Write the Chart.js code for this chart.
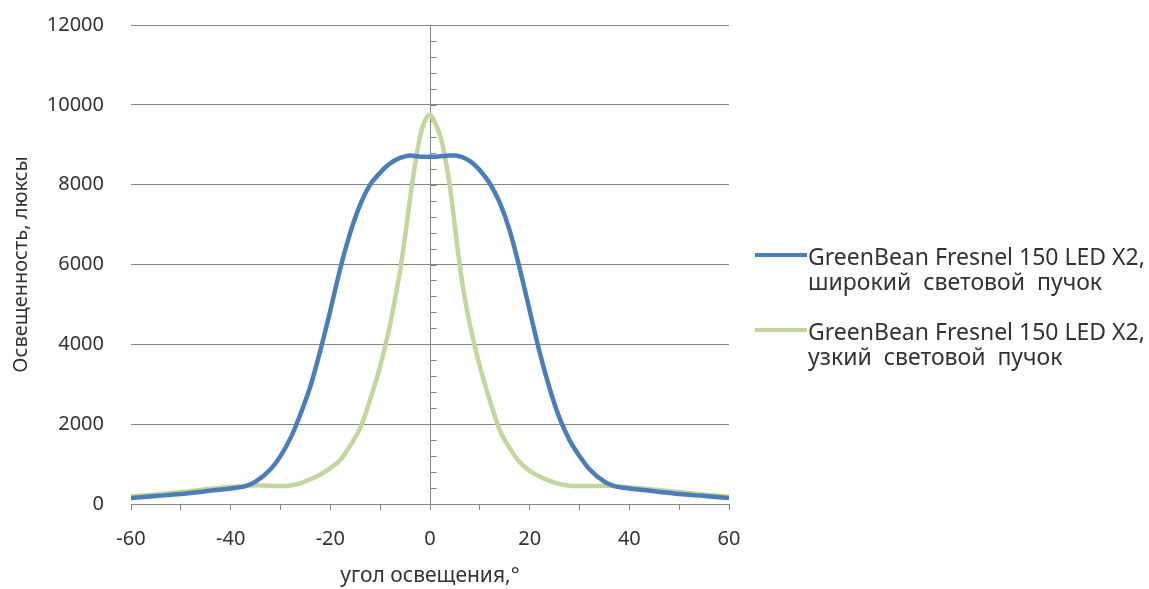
<!DOCTYPE html>
<html>
<head>
<meta charset="utf-8">
<script src="https://cdn.jsdelivr.net/npm/chart.js@4.4.1/dist/chart.umd.min.js"></script>
<style>
  body { margin: 0; background: #fff; }
  #wrap { position: relative; width: 1149px; height: 589px; font-family: "Noto Sans", sans-serif; color: #333; }
  .legend-item { position: absolute; left: 755px; display: flex; align-items: flex-start; }
  .legend-line { width: 52px; height: 4px; margin-top: 9.5px; margin-right: 1px; }
  .legend-text { font-size: 23px; line-height: 25px; white-space: nowrap; }
</style>
</head>
<body>
<div id="wrap">
  <canvas id="chart" width="1149" height="589"></canvas>
  <div class="legend-item" style="top:243.5px">
    <div class="legend-line" style="background:#4A7EBB"></div>
    <div class="legend-text">GreenBean Fresnel 150 LED X2,<br>широкий&nbsp; световой&nbsp; пучок</div>
  </div>
  <div class="legend-item" style="top:318.5px">
    <div class="legend-line" style="background:#C3D69B"></div>
    <div class="legend-text">GreenBean Fresnel 150 LED X2,<br>узкий&nbsp; световой&nbsp; пучок</div>
  </div>
</div>
<script>
// angle, degrees
const angles = [-60, -55, -50, -45, -40, -37, -35, -32,
  -30, -28, -26, -24, -22, -20, -18, -16, -14, -12,
  -10, -9, -8, -7, -6, -5, -4, -3, -2, -1, 0, 1, 2, 3, 4, 5, 6, 7, 8, 9, 10,
  12, 14, 16, 18, 20, 22, 24, 26, 28, 30,
  32, 35, 37, 40, 45, 50, 55, 60];

// illuminance, lux - wide beam
const wideBeam = [150, 200, 250, 320, 390, 450, 560, 870,
  1200, 1650, 2250, 2950, 3850, 4850, 5900, 6800, 7500, 8000,
  8300, 8430, 8530, 8610, 8670, 8710, 8730, 8720, 8700, 8700, 8700, 8700, 8710, 8720, 8730, 8730, 8710, 8660, 8590, 8490, 8360,
  8030, 7550, 6850, 5900, 4850, 3800, 2900, 2150, 1600, 1200,
  870, 560, 450, 390, 320, 250, 200, 150];

// illuminance, lux - narrow beam
const narrowBeam = [190, 240, 300, 370, 430, 460, 470, 455,
  450, 465, 520, 620, 740, 900, 1100, 1470, 1900, 2620,
  3450, 3950, 4500, 5150, 5850, 6700, 7650, 8500, 9200, 9600, 9750, 9550, 9250, 8700, 7950, 6950, 5950, 5150, 4500, 3950, 3450,
  2600, 1850, 1400, 1050, 830, 690, 580, 500, 460, 450,
  450, 455, 450, 420, 360, 300, 240, 180];

const seriesNames = ['GreenBean Fresnel 150 LED X2, широкий световой пучок', 'GreenBean Fresnel 150 LED X2, узкий световой пучок'];

const xTicks = [-60, -50, -40, -30, -20, -10, 0, 10, 20, 30, 40, 50, 60];
const xLabels = [-60, -40, -20, 0, 20, 40, 60];
const yTicks = [0, 2000, 4000, 6000, 8000, 10000, 12000];
const yMinorStep = 400;

const gridColor = '#868686';
const textColor = '#333333';

const toPoints = vals => vals.map((v, i) => ({ x: angles[i], y: v }));

// vertical axis crossing at 0 with minor ticks
const centerAxis = {
  id: 'centerAxis',
  beforeDatasetsDraw(chart) {
    const { ctx, scales: { x, y } } = chart;
    const px = Math.round(x.getPixelForValue(0)) + 0.5;
    ctx.save();
    ctx.strokeStyle = gridColor;
    ctx.lineWidth = 1;
    ctx.beginPath();
    ctx.moveTo(px, y.getPixelForValue(y.max));
    ctx.lineTo(px, y.getPixelForValue(y.min));
    for (let v = y.min; v <= y.max; v += yMinorStep) {
      const py = Math.round(y.getPixelForValue(v)) + 0.5;
      ctx.moveTo(px, py);
      ctx.lineTo(px + 6, py);
    }
    ctx.stroke();
    ctx.restore();
  }
};

new Chart(document.getElementById('chart'), {
  type: 'line',
  data: {
    datasets: [{
      label: seriesNames[0],
      data: toPoints(wideBeam),
      borderColor: '#4A7EBB',
      borderWidth: 4.5,
      pointRadius: 0,
      cubicInterpolationMode: 'monotone',
      fill: false
    }, {
      label: seriesNames[1],
      data: toPoints(narrowBeam),
      borderColor: '#C3D69B',
      borderWidth: 4.5,
      pointRadius: 0,
      cubicInterpolationMode: 'monotone',
      fill: false
    }]
  },
  options: {
    responsive: false,
    animation: false,
    layout: { padding: { top: 25, right: 420, bottom: 0, left: 0 } },
    plugins: {
      legend: { display: false },
      tooltip: { enabled: false }
    },
    scales: {
      x: {
        type: 'linear',
        min: -60,
        max: 60,
        afterBuildTicks: scale => { scale.ticks = xTicks.map(v => ({ value: v })); },
        afterFit: scale => { scale.height = 85; },
        grid: { drawOnChartArea: false, drawTicks: true, tickLength: 6, color: gridColor },
        border: { display: true, color: gridColor },
        ticks: {
          autoSkip: false,
          maxRotation: 0,
          padding: 17,
          color: textColor,
          font: { family: 'Noto Sans', size: 20 },
          callback: v => xLabels.includes(v) ? String(v) : ''
        },
        title: {
          display: true,
          text: 'угол освещения,°',
          color: textColor,
          font: { family: 'Noto Sans', size: 21 },
          padding: { top: 0, bottom: 0 }
        }
      },
      y: {
        min: 0,
        max: 12000,
        afterBuildTicks: scale => { scale.ticks = yTicks.map(v => ({ value: v })); },
        afterFit: scale => { scale.width = 131; },
        grid: { drawTicks: true, tickLength: 25, tickColor: 'rgba(0,0,0,0)', color: gridColor },
        border: { display: false },
        ticks: {
          padding: 2,
          color: textColor,
          font: { family: 'Noto Sans', size: 20 },
          callback: v => String(v)
        },
        title: {
          display: true,
          text: 'Освещенность, люксы',
          color: textColor,
          font: { family: 'Noto Sans', size: 20 },
          padding: { top: 9, bottom: 0 }
        }
      }
    }
  },
  plugins: [centerAxis]
});
</script>
</body>
</html>
